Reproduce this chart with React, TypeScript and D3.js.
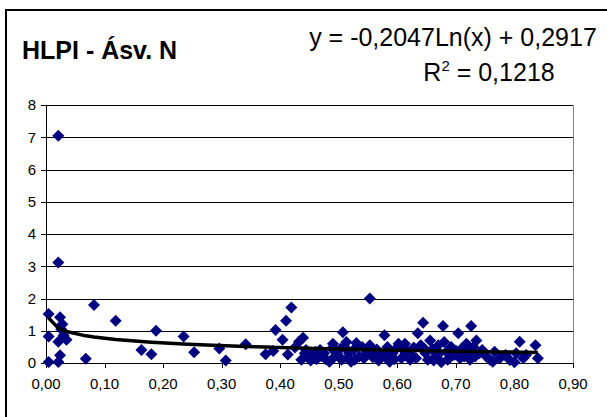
import React from "react";
import * as d3 from "d3";

const xValues: number[] = [
  0.0045, 0.0045, 0.0045, 0.021, 0.021, 0.024, 0.028, 0.026, 0.021, 0.03, 0.035, 0.024, 0.021,
  0.068, 0.082, 0.119, 0.163, 0.18, 0.188, 0.235, 0.253, 0.296, 0.307, 0.341,
  0.375, 0.388, 0.392, 0.404, 0.41, 0.419, 0.413, 0.425, 0.432, 0.439, 0.436, 0.444, 0.447,
  0.455, 0.46, 0.462, 0.47, 0.475, 0.484, 0.488, 0.49, 0.49, 0.495, 0.5, 0.505, 0.507, 0.51,
  0.513, 0.515, 0.517, 0.521, 0.525, 0.53, 0.535, 0.54, 0.548, 0.553, 0.553, 0.558, 0.565,
  0.572, 0.578, 0.583, 0.587, 0.592, 0.598, 0.602, 0.607, 0.613, 0.618, 0.622, 0.628, 0.635,
  0.64, 0.644, 0.648, 0.652, 0.656, 0.66, 0.665, 0.67, 0.675, 0.678, 0.68, 0.684, 0.688,
  0.692, 0.697, 0.704, 0.71, 0.714, 0.718, 0.722, 0.726, 0.73, 0.735, 0.74, 0.752, 0.758,
  0.763, 0.766, 0.775, 0.785, 0.792, 0.8, 0.803, 0.809, 0.815, 0.82, 0.836, 0.84,
  0.442, 0.452, 0.468, 0.478, 0.497, 0.503, 0.527, 0.543, 0.562, 0.568, 0.595, 0.61, 0.625,
  0.632, 0.646, 0.662, 0.672, 0.686, 0.7, 0.707, 0.712, 0.724, 0.733, 0.745, 0.58, 0.615,
];
const yValues: number[] = [
  1.52, 0.82, 0.03, 7.05, 3.12, 1.42, 1.2, 1.05, 0.66, 0.85, 0.72, 0.24, 0.03,
  0.13, 1.8, 1.31, 0.4, 0.27, 1.0, 0.82, 0.33, 0.45, 0.08, 0.58,
  0.27, 0.37, 1.02, 0.72, 1.31, 1.72, 0.26, 0.48, 0.66, 0.78, 0.1, 0.4, 0.18,
  0.28, 0.35, 0.12, 0.22, 0.3, 0.04, 0.45, 0.6, 0.15, 0.38, 0.2, 0.1, 0.95, 0.5,
  0.65, 0.15, 0.3, 0.04, 0.4, 0.62, 0.2, 0.5, 0.3, 2.0, 0.55, 0.18, 0.42,
  0.28, 0.86, 0.5, 0.04, 0.3, 0.45, 0.6, 0.15, 0.6, 0.35, 0.1, 0.48, 0.92,
  0.55, 1.25, 0.3, 0.1, 0.7, 0.42, 0.2, 0.55, 0.02, 1.15, 0.65, 0.35, 0.15,
  0.5, 0.25, 0.92, 0.45, 0.2, 0.6, 0.35, 1.15, 0.5, 0.7, 0.3, 0.2, 0.1,
  0.04, 0.35, 0.15, 0.25, 0.09, 0.02, 0.3, 0.66, 0.15, 0.25, 0.55, 0.15,
  0.3, 0.08, 0.4, 0.12, 0.28, 0.45, 0.1, 0.15, 0.3, 0.08, 0.12, 0.4, 0.25,
  0.15, 0.45, 0.08, 0.3, 0.1, 0.38, 0.15, 0.3, 0.1, 0.2, 0.4, 0.2, 0.3,
];
const xTicks: number[] = [0, 0.1, 0.2, 0.3, 0.4, 0.5, 0.6, 0.7, 0.8, 0.9];
const yTicks: number[] = [0, 1, 2, 3, 4, 5, 6, 7, 8];
const trendSlope = -0.2047;
const trendIntercept = 0.2917;
const titleText = "HLPI - Ásv. N";
const equationText = "y = -0,2047Ln(x) + 0,2917";
const r2Value = "0,1218";

const W = 607;
const H = 417;
const L = 46, R = 573, T = 105, B = 363;

export default function App() {
  const x = d3.scaleLinear().domain([0, 0.9]).range([L, R]);
  const y = d3.scaleLinear().domain([0, 8]).range([B, T]);
  const fmt = (v: number) => v.toFixed(2).replace(".", ",");
  const pts = xValues.map((v, i) => ({ x: v, y: yValues[i] }));
  const trendXs = Array.from(new Set(xValues.filter((v) => v > 0))).sort((a, b) => a - b);
  const trendLine = d3
    .line<number>()
    .x((v) => x(v))
    .y((v) => y(trendSlope * Math.log(v) + trendIntercept))(trendXs);
  const d = 6;
  const diamond = `M0,${-d}L${d},0L0,${d}L${-d},0Z`;
  const font = "'Liberation Sans', Arial, sans-serif";
  return (
    <svg width={W} height={H} style={{ position: "absolute", left: 0, top: 0 }}>
      <rect x={0} y={0} width={W} height={H} fill="#fff" />
      <rect x={6} y={10} width={W + 20} height={H + 20} fill="none" stroke="#000" strokeWidth={2} />
      {yTicks.filter((t) => t > 0).map((t) => (
        <line key={t} x1={L} x2={R} y1={Math.round(y(t)) + 0.5} y2={Math.round(y(t)) + 0.5} stroke="#000" strokeWidth={1} />
      ))}
      <line x1={R + 0.5} x2={R + 0.5} y1={Math.round(T) + 0.5} y2={B} stroke="#808080" strokeWidth={1} />
      <line x1={L + 0.5} x2={L + 0.5} y1={T} y2={B + 0.5} stroke="#000" />
      <line x1={L} x2={R + 1} y1={B + 0.5} y2={B + 0.5} stroke="#000" />
      {yTicks.map((t) => (
        <g key={t}>
          <line x1={L - 5} x2={L} y1={Math.round(y(t)) + 0.5} y2={Math.round(y(t)) + 0.5} stroke="#000" />
          <text x={L - 10} y={y(t)} dy="0.35em" textAnchor="end" fontFamily={font} fontSize={15}>{t}</text>
        </g>
      ))}
      {xTicks.map((t) => (
        <g key={t}>
          <line x1={Math.round(x(t)) + 0.5} x2={Math.round(x(t)) + 0.5} y1={B} y2={B + 5} stroke="#000" />
          <text x={x(t)} y={389} textAnchor="middle" fontFamily={font} fontSize={15}>{fmt(t)}</text>
        </g>
      ))}
      {pts.map((p, i) => (
        <path key={i} d={diamond} transform={`translate(${x(p.x)},${y(p.y)})`} fill="#000080" />
      ))}
      <path d={trendLine || ""} fill="none" stroke="#000" strokeWidth={3.5} strokeLinejoin="round" />
      <text x={22} y={59} fontFamily={font} fontSize={25} fontWeight="bold">{titleText}</text>
      <text x={453} y={46} textAnchor="middle" fontFamily={font} fontSize={25}>{equationText}</text>
      <text x={489} y={81} textAnchor="middle" fontFamily={font} fontSize={25}>
        R<tspan dy={-10} fontSize={15}>2</tspan><tspan dy={10}> = {r2Value}</tspan>
      </text>
    </svg>
  );
}
